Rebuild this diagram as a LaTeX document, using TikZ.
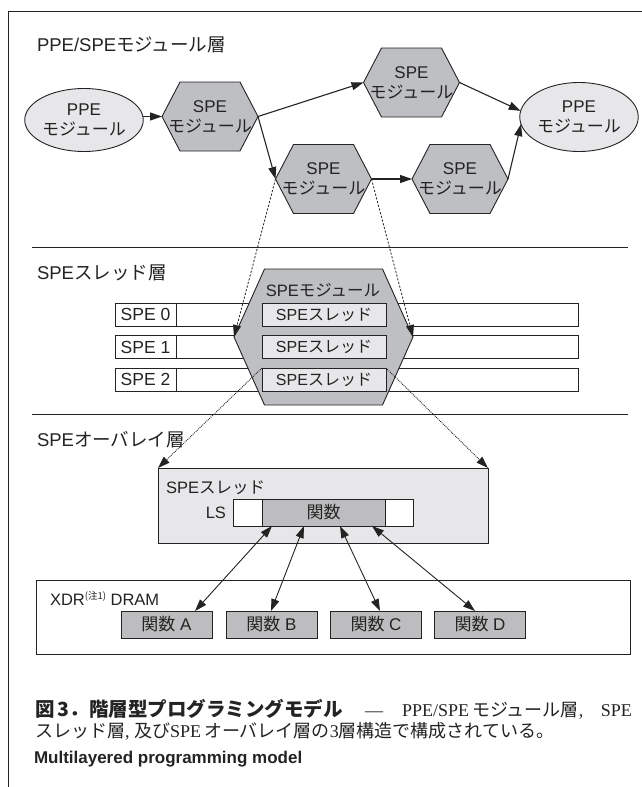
\documentclass[tikz,border=0pt]{standalone}
\usepackage{fontspec}
\setmainfont{Liberation Sans}
\newfontfamily\jp{Noto Sans CJK JP}
\newfontfamily\capserif{Liberation Serif}
\usetikzlibrary{arrows.meta,calc,shapes.geometric}
\newcommand\J[1]{{\jp #1}}
\definecolor{hexgray}{RGB}{190,191,194}
\definecolor{lightg}{RGB}{231,231,233}
\definecolor{boxgray}{RGB}{189,189,191}
\definecolor{ink}{RGB}{35,35,35}
% #1 name, #2 cx, #3 cy, #4 half width, #5 half height, #6 half top edge
\newcommand\myhex[6]{%
  \coordinate (#1) at (#2,#3);
  \coordinate (#1-l) at (#2-#4,#3);
  \coordinate (#1-r) at (#2+#4,#3);
  \coordinate (#1-tl) at (#2-#6,#3-#5);
  \coordinate (#1-tr) at (#2+#6,#3-#5);
  \coordinate (#1-bl) at (#2-#6,#3+#5);
  \coordinate (#1-br) at (#2+#6,#3+#5);
  \draw[hexfill] (#1-l) -- (#1-tl) -- (#1-tr) -- (#1-r) -- (#1-br) -- (#1-bl) -- cycle;
}
\begin{document}
\begin{tikzpicture}[x=1pt,y=-1pt,line join=miter,
  every node/.style={inner sep=0pt,outer sep=0pt,text=ink},
  hexfill/.style={draw=ink,fill=hexgray,line width=0.9pt},
  ppe/.style={ellipse,draw=ink,fill=lightg,line width=0.9pt,minimum width=98pt,align=center,font=\fontsize{17}{20}\selectfont},
  txt/.style={align=center,font=\fontsize{17}{20}\selectfont},
  layerlab/.style={anchor=west,font=\fontsize{18.5}{21}\selectfont},
  tip/.style={-{Triangle[length=12pt,width=8pt]}},
  flow/.style={tip,line width=1.1pt,draw=ink},
  dashline/.style={tip,draw=ink,line width=0.8pt,dash pattern=on 2.2pt off 1.6pt},
  dotline/.style={tip,draw=ink,line width=0.9pt,densely dotted},
  twoway/.style={{Triangle[length=12pt,width=8pt]}-{Triangle[length=12pt,width=8pt]},draw=ink,line width=0.9pt},
  rowbox/.style={draw=ink,fill=white,line width=0.7pt,minimum height=23pt,font=\fontsize{17.5}{20}\selectfont},
  thrbox/.style={draw=ink,fill=lightg,line width=0.9pt,minimum width=124pt,minimum height=23pt,font=\fontsize{16}{19}\selectfont},
  funcbox/.style={draw=ink,fill=boxgray,line width=0.9pt,minimum width=91pt,minimum height=27pt,font=\fontsize{17}{20}\selectfont},
  sep/.style={draw=ink,line width=0.9pt}
]
\useasboundingbox (0,0) rectangle (642,787);
% frame
\draw[draw=ink,line width=1pt] (642,11.5) -- (8,11.5) -- (8,787);
% ---------- layer 1 ----------
\node[layerlab] (lab1) at (37,45) {PPE/SPE\J{モジュール層}};
\node[ppe,minimum height=63pt] (e1) at (84,120) {PPE\\\J{モジュール}};
\node[ppe,minimum height=69pt] (e2) at (579,117) {PPE\\\J{モジュール}};
\myhex{h1}{210}{116.5}{48}{34.5}{30}
\myhex{h2}{411.5}{82.5}{48}{34.5}{30}
\myhex{h3}{323.5}{179}{48}{34.5}{30}
\myhex{h4}{460}{179}{48}{34.5}{30}
\node[txt] (h1t) at (h1) {SPE\\\J{モジュール}};
\node[txt] (h2t) at (h2) {SPE\\\J{モジュール}};
\node[txt] (h3t) at (h3) {SPE\\\J{モジュール}};
\node[txt] (h4t) at (h4) {SPE\\\J{モジュール}};
\draw[flow] (e1.east |- h1-l) -- (h1-l);
\draw[flow] (h1-r) -- (h2-l);
\draw[flow] (h1-r) -- (h3-l);
\draw[flow] (h3-r) -- (h4-l);
\draw[flow] (h2-r) -- (e2.174);
\draw[flow] (h4-r) -- (e2.187);
\draw[sep] (32,247) -- (628,247);
% ---------- layer 2 ----------
\node[layerlab] (lab2) at (37,273) {SPE\J{スレッド層}};
\foreach \i/\yy in {0/314.5,1/347,2/379.5}{
  \node[rowbox,minimum width=402pt] (r\i) at (377,\yy) {};
  \node[rowbox,minimum width=61pt] (s\i) at (145.5,\yy) {SPE \i};
}
\myhex{big}{323.5}{337}{89.5}{68}{59}
\node[font=\fontsize{16.5}{19}\selectfont] (bigt) at (323,290) {SPE\J{モジュール}};
\node[thrbox] (t0) at (324,314.5) {SPE\J{スレッド}};
\node[thrbox] (t1) at (324,347) {SPE\J{スレッド}};
\node[thrbox] (t2) at (324,379.5) {SPE\J{スレッド}};
\draw[dashline] (h3-l) -- (big-l);
\draw[dashline] (h3-r) -- (big-r);
\draw[sep] (32,414) -- (628,414);
% ---------- layer 3 ----------
\node[layerlab] (lab3) at (37,440) {SPE\J{オーバレイ層}};
\node[draw=ink,fill=lightg,line width=0.9pt,minimum width=330pt,minimum height=75pt] (ov) at (323,505.5) {};
\node[anchor=west,font=\fontsize{16.5}{19}\selectfont] (ovt) at (166,488) {SPE\J{スレッド}};
\node[draw=ink,fill=white,line width=0.9pt,minimum width=180pt,minimum height=27pt] (ls) at (323,512.5) {};
\node[anchor=east,font=\fontsize{16.5}{19}\selectfont] (lst) at (226,513) {LS};
\node[funcbox,minimum width=123pt] (fn) at (323.5,512.5) {\J{関数}};
\draw[dotline] (t2.north west) -- (ov.north west);
\draw[dotline] (t2.north east) -- (ov.north east);
\node[draw=ink,fill=white,line width=0.9pt,minimum width=594pt,minimum height=74pt] (xdr) at (333,617) {};
\node[anchor=west,font=\fontsize{16.5}{19}\selectfont] (xdrt) at (50,598) {XDR\raisebox{6pt}{\fontsize{9.5}{9.5}\selectfont\J{(注1)}} DRAM};
\node[funcbox] (fa) at (166.5,624.5) {\J{関数} A};
\node[funcbox] (fb) at (271.5,624.5) {\J{関数} B};
\node[funcbox] (fc) at (376,624.5) {\J{関数} C};
\node[funcbox] (fd) at (480,624.5) {\J{関数} D};
\draw[twoway] ([xshift=-51.5pt]fn.south) -- ([xshift=28.5pt]fa.north);
\draw[twoway] ([xshift=-19.5pt]fn.south) -- ([xshift=-0.5pt]fb.north);
\draw[twoway] ([xshift=16.5pt]fn.south) -- ([xshift=4pt]fc.north);
\draw[twoway] ([xshift=48.5pt]fn.south) -- ([xshift=-5pt]fd.north);
% ---------- caption ----------
\node[anchor=west,font=\fontsize{18}{22}\selectfont] (cap1) at (35,709)
  {\makebox[597pt][s]{{\jp\bfseries\fontsize{19.5}{22}\selectfont 図\,3．階層型プログラミングモデル}\hspace{6pt} \capserif —\hspace{4pt} PPE/SPE\,\jp モジュール層\capserif, SPE}};
\node[anchor=west,font=\fontsize{18}{22}\selectfont] (cap2) at (35,731)
  {\jp スレッド層\capserif, \jp 及び\capserif SPE\,\jp オーバレイ層の\capserif 3\jp 層構造で構成されている。};
\node[anchor=west,font=\bfseries\fontsize{17}{20}\selectfont] (cap3) at (34,759) {Multilayered programming model};
\end{tikzpicture}
\end{document}
